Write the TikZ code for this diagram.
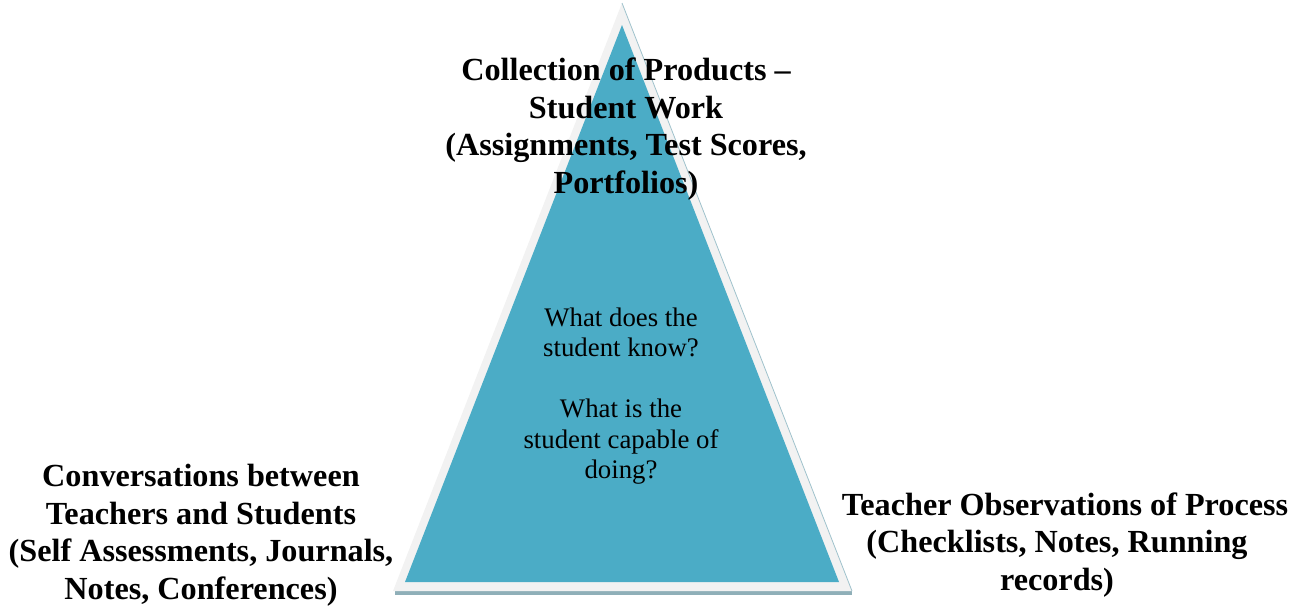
\documentclass[tikz,border=0pt]{standalone}
\usepackage{fontspec}
\setmainfont{Liberation Serif}
\definecolor{teal5}{HTML}{4BACC6}
\definecolor{bevel}{HTML}{F2F2F2}
\definecolor{edge}{HTML}{9FC2CC}
\definecolor{strip}{HTML}{8FAFB8}
\tikzset{
  bigtext/.style={font=\bfseries\fontsize{32.2}{37.5}\selectfont, align=center, inner sep=0pt},
  smalltext/.style={font=\fontsize{26.8}{30.5}\selectfont, align=center, inner sep=0pt},
}
\begin{document}
\begin{tikzpicture}[x=1pt,y=-1pt]
\useasboundingbox (0,0) rectangle (1302,606);
% bottom strip (shadow)
\fill[strip] (395,589) rectangle (852,595);
% outer bevel
\fill[bevel] (622,3) -- (852,591) -- (393,591) -- cycle;
\draw[edge, line width=0.8pt] (622,3) -- (852,591);
% inner teal triangle
\fill[teal5] (622,25) -- (839,582) -- (405,582) -- cycle;
% texts
\node[bigtext] (top) at (626,129) {Collection of Products --\\Student Work\\(Assignments, Test Scores,\\Portfolios)};
\node[smalltext] (mid) at (621,396) {What does the\\student know?\\[30.5pt]What is the\\student capable of\\doing?};
\node[bigtext] (left) at (201,535) {Conversations between\\Teachers and Students\\(Self Assessments, Journals,\\Notes, Conferences)};
\node[bigtext] (right) at (1065,545) {Teacher Observations of Process\\(Checklists, Notes, Running\kern16pt\\records)\kern16pt};
\end{tikzpicture}
\end{document}
